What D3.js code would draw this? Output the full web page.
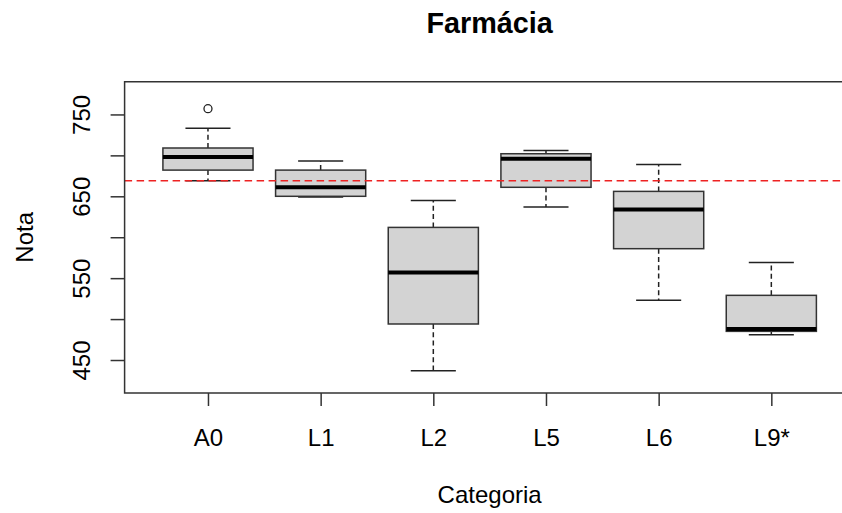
<!DOCTYPE html>
<html>
<head>
<meta charset="utf-8">
<script src="https://cdn.jsdelivr.net/npm/d3@7"></script>
<style>
  html, body { margin: 0; padding: 0; background: #fff; overflow: hidden; }
  svg { display: block; }
  svg text { font-family: "Liberation Sans", Arial, sans-serif; fill: #000; }
</style>
</head>
<body>
<svg id="chart" width="842" height="513"></svg>
<script>
const categories = ['A0', 'L1', 'L2', 'L5', 'L6', 'L9*'];
const whiskerLow = [669, 649, 437, 637, 523, 481];
const q1 = [682, 650, 494, 661, 586, 485];
const median = [698, 661, 557, 696, 634, 488];
const q3 = [709, 682, 612, 702, 656, 529];
const whiskerHigh = [733, 693, 645, 706, 689, 569];
const outliers = [[757], [], [], [], [], []];
const yTicks = [450, 500, 550, 600, 650, 700, 750];
const yLabels = [450, 550, 650, 750];
const refLine = 669;

const svg = d3.select('#chart');
const plot = { left: 124.6, right: 854.7, top: 81.7, bottom: 393 };

const x = d3.scaleLinear().domain([0.26, 6.74]).range([plot.left, plot.right]);
const y = d3.scaleLinear().domain([409.7, 790]).range([plot.bottom, plot.top]);

const boxW = x(1.8) - x(1);
const stapleW = boxW / 2;

const rows = categories.map((c, i) => ({
  c, pos: i + 1,
  lo: whiskerLow[i], q1: q1[i], med: median[i], q3: q3[i], hi: whiskerHigh[i],
  out: outliers[i]
}));

const boxes = svg.append('g').selectAll('g').data(rows).join('g');

// whiskers
boxes.append('line')
  .attr('x1', d => x(d.pos)).attr('x2', d => x(d.pos))
  .attr('y1', d => y(d.q3)).attr('y2', d => y(d.hi))
  .attr('stroke', '#222').attr('stroke-width', 1.5).attr('stroke-dasharray', '5,3.3');
boxes.append('line')
  .attr('x1', d => x(d.pos)).attr('x2', d => x(d.pos))
  .attr('y1', d => y(d.q1)).attr('y2', d => y(d.lo))
  .attr('stroke', '#222').attr('stroke-width', 1.5).attr('stroke-dasharray', '5,3.3');

// staples
['hi', 'lo'].forEach(k => {
  boxes.append('line')
    .attr('x1', d => x(d.pos) - stapleW / 2).attr('x2', d => x(d.pos) + stapleW / 2)
    .attr('y1', d => y(d[k])).attr('y2', d => y(d[k]))
    .attr('stroke', '#222').attr('stroke-width', 1.5);
});

// boxes
boxes.append('rect')
  .attr('x', d => x(d.pos) - boxW / 2)
  .attr('y', d => y(d.q3))
  .attr('width', boxW)
  .attr('height', d => y(d.q1) - y(d.q3))
  .attr('fill', '#d3d3d3').attr('stroke', '#333').attr('stroke-width', 1.5);

// medians
boxes.append('line')
  .attr('x1', d => x(d.pos) - boxW / 2).attr('x2', d => x(d.pos) + boxW / 2)
  .attr('y1', d => y(d.med)).attr('y2', d => y(d.med))
  .attr('stroke', '#000').attr('stroke-width', 4);

// outliers
boxes.selectAll('circle').data(d => d.out.map(v => ({ pos: d.pos, v }))).join('circle')
  .attr('cx', d => x(d.pos)).attr('cy', d => y(d.v)).attr('r', 4)
  .attr('fill', 'none').attr('stroke', '#222').attr('stroke-width', 1.3);

// reference line
svg.append('line')
  .attr('x1', plot.left).attr('x2', plot.right)
  .attr('y1', y(refLine)).attr('y2', y(refLine))
  .attr('stroke', '#ee2222').attr('stroke-width', 1.5).attr('stroke-dasharray', '7.5,4.5');

// frame (right side falls outside the picture)
svg.append('path')
  .attr('d', `M${plot.right},${plot.top}H${plot.left}V${plot.bottom}H${plot.right}`)
  .attr('fill', 'none').attr('stroke', '#333').attr('stroke-width', 1.5);

// x axis
const xAxis = svg.append('g')
  .attr('transform', `translate(0,${plot.bottom})`)
  .call(d3.axisBottom(x).tickValues(rows.map(d => d.pos))
    .tickFormat((d, i) => categories[i]).tickSize(13).tickPadding(0));
xAxis.select('.domain').remove();
xAxis.selectAll('.tick line').attr('stroke', '#333').attr('stroke-width', 1.5);
xAxis.selectAll('.tick text')
  .attr('y', 53).attr('dy', null)
  .style('font-size', '24px').attr('fill', '#000');

// y axis
const yAxis = svg.append('g')
  .attr('transform', `translate(${plot.left},0)`)
  .call(d3.axisLeft(y).tickValues(yTicks)
    .tickFormat(d => yLabels.includes(d) ? d : '').tickSize(14));
yAxis.select('.domain').remove();
yAxis.selectAll('.tick line').attr('stroke', '#333').attr('stroke-width', 1.5);
yAxis.selectAll('.tick text')
  .attr('x', null).attr('dy', null)
  .attr('text-anchor', 'middle')
  .attr('transform', 'translate(-34.6,0) rotate(-90)')
  .style('font-size', '24px').attr('fill', '#000');

// titles
svg.append('text')
  .attr('x', (plot.left + plot.right) / 2).attr('y', 33)
  .attr('text-anchor', 'middle')
  .style('font-size', '28.8px').style('font-weight', 'bold')
  .text('Farmácia');

svg.append('text')
  .attr('x', (plot.left + plot.right) / 2).attr('y', 503)
  .attr('text-anchor', 'middle')
  .style('font-size', '24px')
  .text('Categoria');

svg.append('text')
  .attr('transform', `translate(33,${(plot.top + plot.bottom) / 2}) rotate(-90)`)
  .attr('text-anchor', 'middle')
  .style('font-size', '24px')
  .text('Nota');
</script>
</body>
</html>
